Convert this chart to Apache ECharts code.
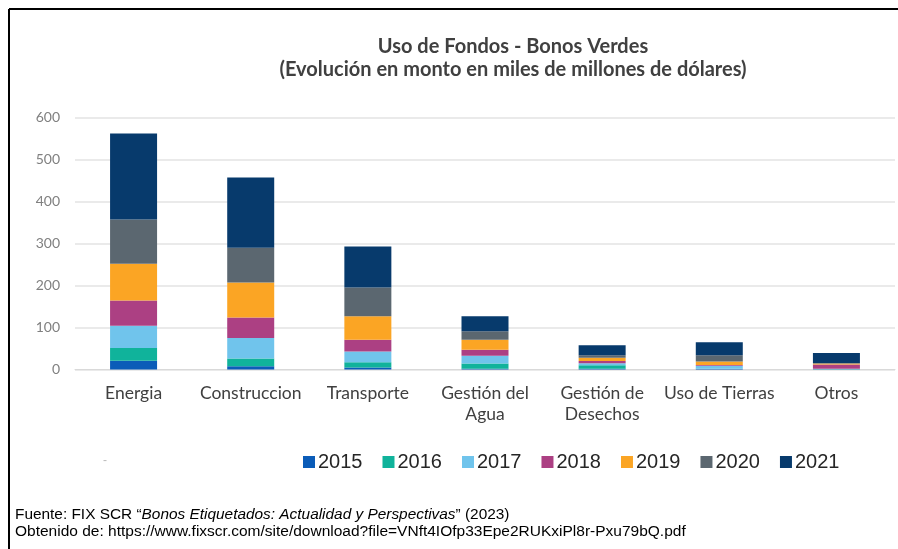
<!DOCTYPE html>
<html>
<head>
<meta charset="utf-8">
<script src="https://cdn.jsdelivr.net/npm/echarts@6/dist/echarts.min.js"></script>
<style>
  html, body { margin: 0; padding: 0; background: #fff; }
  #main { width: 898px; height: 549px; }
</style>
</head>
<body>
<div id="main"></div>
<script>
// categorias y valores (miles de millones de USD)
var categories = ['Energia', 'Construccion', 'Transporte', 'Gestión del\nAgua', 'Gestión de\nDesechos', 'Uso de Tierras', 'Otros'];
var years = ['2015', '2016', '2017', '2018', '2019', '2020', '2021'];
var v2015 = [21, 8, 5, 2, 2, 1, 0.5];
var v2016 = [30, 18, 12, 12, 8, 1, 0.5];
var v2017 = [53, 49, 26, 19, 5, 7, 1];
var v2018 = [60, 49, 28, 14, 5, 2, 10];
var v2019 = [88, 83, 56, 24, 8, 8, 2];
var v2020 = [105, 83, 68, 20, 6, 15, 1];
var v2021 = [205, 167, 98, 36, 24, 31, 24];
var yTicks = [0, 100, 200, 300, 400, 500, 600];

var values = [v2015, v2016, v2017, v2018, v2019, v2020, v2021];
var colors = ['#0b5cb8', '#10b39b', '#70c4ec', '#ac4083', '#fba524', '#5b6770', '#073a6c'];

var myChart = echarts.init(document.getElementById('main'));

var series = years.map(function (y, i) {
  return {
    name: y,
    type: 'bar',
    stack: 'total',
    barWidth: 47,
    data: values[i],
    itemStyle: { color: colors[i] }
  };
});

var option = {
  backgroundColor: '#fff',
  animation: false,
  color: colors,
  title: {
    text: 'Uso de Fondos - Bonos Verdes\n(Evolución en monto en miles de millones de dólares)',
    left: 508,
    top: 30,
    textAlign: 'center',
    textStyle: {
      fontFamily: 'Lato',
      fontWeight: 'bold',
      fontSize: 20,
      lineHeight: 23,
      color: '#404040'
    }
  },
  legend: {
    data: years,
    left: 298,
    top: 447,
    icon: 'rect',
    itemWidth: 12,
    itemHeight: 12,
    itemGap: 20,
    textStyle: {
      fontFamily: 'Liberation Sans',
      fontSize: 20,
      color: '#262626',
      padding: [0, 0, 0, -2]
    }
  },
  grid: {
    left: 75,
    right: 3,
    top: 117.5,
    height: 252
  },
  xAxis: {
    type: 'category',
    data: categories,
    axisLine: { lineStyle: { color: '#d9d9d9' } },
    axisTick: { show: false },
    axisLabel: {
      margin: 13,
      interval: 0,
      fontFamily: 'Lato',
      fontSize: 17.5,
      lineHeight: 21,
      color: '#404040'
    }
  },
  yAxis: {
    type: 'value',
    min: yTicks[0],
    max: yTicks[yTicks.length - 1],
    interval: 100,
    axisLine: { show: false },
    axisTick: { show: false },
    axisLabel: {
      margin: 15,
      fontFamily: 'Lato',
      fontSize: 14,
      color: '#808080'
    },
    splitLine: { lineStyle: { color: '#e3e3e3', width: 1.5 } }
  },
  graphic: [
    { type: 'line', shape: { x1: 9, y1: 9, x2: 898, y2: 9 }, style: { stroke: '#000', lineWidth: 2 } },
    { type: 'line', shape: { x1: 9, y1: 9, x2: 9, y2: 549 }, style: { stroke: '#000', lineWidth: 2 } },
    { type: 'text', left: 103, top: 455, style: { text: '-', fontSize: 12, fill: '#bbb' } },
    {
      type: 'text', left: 15, top: 507,
      style: {
        text: '{n|Fuente: FIX SCR “}{i|Bonos Etiquetados: Actualidad y Perspectivas}{n|” (2023)}\n{u|Obtenido de: https://www.fixscr.com/site/download?file=VNft4IOfp33Epe2RUKxiPl8r-Pxu79bQ.pdf}',
        rich: {
          n: { fontFamily: 'Liberation Sans', fontSize: 15.4, lineHeight: 17, fill: '#000' },
          i: { fontFamily: 'Liberation Sans', fontStyle: 'italic', fontSize: 15.4, lineHeight: 17, fill: '#000' },
          u: { fontFamily: 'Liberation Sans', fontSize: 15.5, lineHeight: 17, fill: '#000' }
        }
      }
    }
  ],
  series: series
};

myChart.setOption(option);
window.onresize = myChart.resize;
</script>
</body>
</html>
